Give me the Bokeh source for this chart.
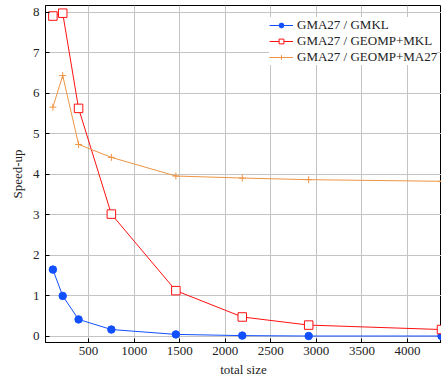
from bokeh.plotting import figure
from bokeh.models import Range1d, FixedTicker, Legend, LegendItem
from bokeh.embed import file_html
from bokeh.resources import INLINE

sizes = [108, 216, 390, 750, 1458, 2187, 2916, 4374]
gmkl = [1.65, 1.0, 0.42, 0.17, 0.05, 0.02, 0.01, 0.01]
geomp_mkl = [7.91, 7.98, 5.63, 3.02, 1.13, 0.48, 0.28, 0.17]
geomp_ma27 = [5.66, 6.44, 4.74, 4.42, 3.96, 3.91, 3.87, 3.83]
x_ticks = [500, 1000, 1500, 2000, 2500, 3000, 3500, 4000]
y_ticks = [0, 1, 2, 3, 4, 5, 6, 7, 8]
labels = ["GMA27 / GMKL", "GMA27 / GEOMP+MKL", "GMA27 / GEOMP+MA27"]
x_label = "total size"
y_label = "Speed-up"

FONT = "Liberation Serif"
X0, X1 = 27, 4374
Y0, Y1 = -0.15, 8.17

p = figure(width=441, height=379, output_backend="svg", toolbar_location=None,
           x_range=Range1d(X0, X1), y_range=Range1d(Y0, Y1),
           min_border_left=45, min_border_right=0, min_border_top=5, min_border_bottom=36)

p.outline_line_color = "black"
p.outline_line_width = 1
for ax in (p.xaxis[0], p.yaxis[0]):
    ax.axis_line_color = "black"
    ax.major_tick_in = 4
    ax.major_tick_out = 0
    ax.minor_tick_line_color = None
    ax.major_label_text_font = FONT
    ax.major_label_text_font_size = "13px"
    ax.major_label_text_color = "#222222"
    ax.axis_label_text_font = FONT
    ax.axis_label_text_font_size = "13px"
    ax.axis_label_text_font_style = "normal"
    ax.axis_label_text_color = "#222222"

p.xaxis.ticker = FixedTicker(ticks=x_ticks)
p.yaxis.ticker = FixedTicker(ticks=y_ticks)
p.xaxis.axis_label = x_label
p.yaxis.axis_label = y_label
p.xaxis.major_label_standoff = 4
p.yaxis.major_label_standoff = 6
p.xaxis.axis_label_standoff = 4
p.yaxis.axis_label_standoff = 5

p.xgrid.ticker = FixedTicker(ticks=x_ticks)
p.ygrid.ticker = FixedTicker(ticks=y_ticks)
p.grid.grid_line_color = "#c4c4c4"
p.grid.grid_line_width = 1

blue = "#1250ff"
red = "#ff1010"
orange = "#ee9444"

l1 = p.line(sizes, gmkl, line_color=blue, line_width=1)
m1 = p.scatter(sizes, gmkl, marker="circle", size=7.5, fill_color=blue, line_color=blue)
l2 = p.line(sizes, geomp_mkl, line_color=red, line_width=1)
m2 = p.scatter(sizes, geomp_mkl, marker="square", size=8.5, fill_color="white", line_color=red, line_width=1)
l3 = p.line(sizes, geomp_ma27, line_color=orange, line_width=1)
m3 = p.scatter(sizes, geomp_ma27, marker="cross", size=7, line_color=orange, line_width=1)

legend = Legend(items=[LegendItem(label=labels[0], renderers=[l1, m1]),
                       LegendItem(label=labels[1], renderers=[l2, m2]),
                       LegendItem(label=labels[2], renderers=[l3, m3])],
                location=(224, 277))
legend.label_text_font = FONT
legend.label_text_font_size = "13px"
legend.label_text_color = "#222222"
legend.border_line_color = None
legend.background_fill_color = "white"
legend.background_fill_alpha = 1
legend.glyph_width = 24
legend.glyph_height = 12
legend.label_height = 12
legend.spacing = -2
legend.padding = 3
legend.margin = 0
legend.label_standoff = 4
p.add_layout(legend)

open("out.html", "w").write(file_html(p, INLINE))
